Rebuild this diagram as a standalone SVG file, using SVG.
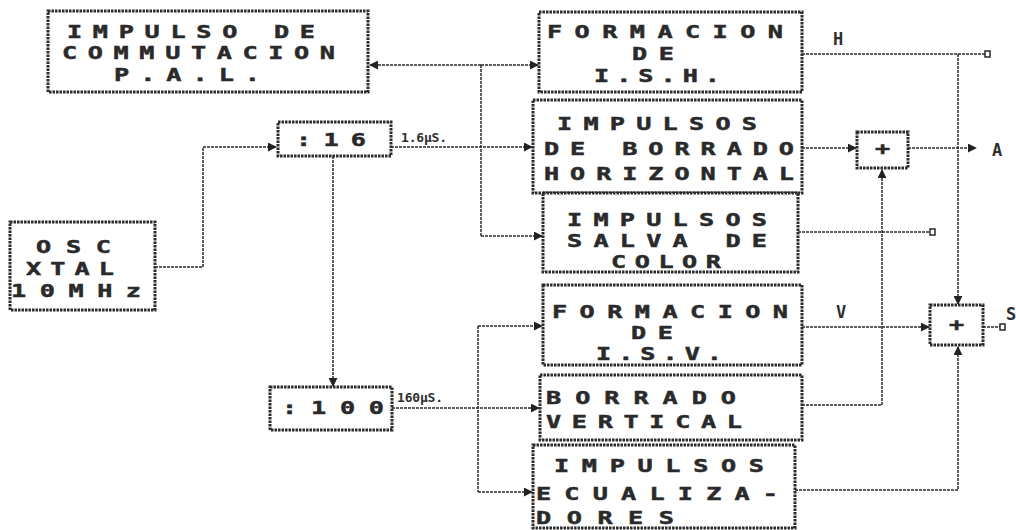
<svg xmlns="http://www.w3.org/2000/svg" width="1016" height="530" viewBox="0 0 1016 530">
<defs>
<marker id="arr" viewBox="0 0 10 10" refX="9" refY="5" markerWidth="9" markerHeight="9" markerUnits="userSpaceOnUse" orient="auto">
<path d="M0,0 L10,5 L0,10 z" fill="#222"/>
</marker>
</defs>
<style>
.box{fill:#fff;stroke:#2a2a2a;stroke-width:3;stroke-dasharray:2.5 1}
.t{font-family:"DejaVu Sans Mono","Liberation Mono",monospace;font-weight:bold;font-size:18px;fill:#2a2a2a;stroke:#2a2a2a;stroke-width:0.5}
.s{font-family:"DejaVu Sans Mono","Liberation Mono",monospace;font-weight:bold;font-size:13px;fill:#2e2e2e}
.l{font-family:"DejaVu Sans Mono","Liberation Mono",monospace;font-weight:bold;font-size:17px;fill:#2e2e2e}
.c{fill:none;stroke:#2a2a2a;stroke-width:1.5;stroke-dasharray:3 1}
.a{marker-end:url(#arr)}
.term{fill:#fff;stroke:#2a2a2a;stroke-width:1.5}
</style>
<rect width="1016" height="530" fill="#fff"/>

<g id="connectors">
<path class="c a" d="M155,267 H203 V147 H276"/>
<path class="c a" d="M333,156 V386"/>
<path class="c a" d="M391,147 H532"/>
<path class="c" d="M481,65 V236"/>
<path class="c a" d="M481,65 H370"/>
<path class="c a" d="M481,65 H538"/>
<path class="c a" d="M481,236 H542"/>
<path class="c a" d="M392,408 H539"/>
<path class="c" d="M478,326 V492"/>
<path class="c a" d="M478,326 H542"/>
<path class="c a" d="M478,492 H532"/>
<path class="c" d="M802,54 H985"/>
<path class="c a" d="M958,54 V304"/>
<path class="c a" d="M802,148 H856"/>
<path class="c a" d="M908,148 H976"/>
<path class="c a" d="M802,405 H882 V170"/>
<path class="c" d="M798,232 H930"/>
<path class="c a" d="M802,327 H929"/>
<path class="c" d="M983,327 H1000"/>
<path class="c a" d="M795,490 H958 V347"/>
<rect class="term" x="985" y="51" width="5" height="6"/>
<rect class="term" x="930" y="229" width="5" height="6"/>
<rect class="term" x="1000" y="324" width="5" height="6"/>
</g>

<g id="n-pal">
<rect class="box" x="48" y="11" width="320" height="81"/>
<text class="t" transform="scale(1.4 1)" x="47.86" y="38" textLength="177.14" lengthAdjust="spacing">IMPULSO DE</text>
<text class="t" transform="scale(1.4 1)" x="44.29" y="59" textLength="195" lengthAdjust="spacing">COMMUTACION</text>
<text class="t" transform="scale(1.4 1)" x="81.43" y="81" textLength="104.29" lengthAdjust="spacing">P.A.L.</text>
</g>

<g id="n-div16">
<rect class="box" x="278" y="122" width="113" height="34"/>
<text class="t" transform="scale(1.4 1)" x="211.43" y="146" textLength="50" lengthAdjust="spacing">:16</text>
</g>
<text class="s" x="401" y="142" textLength="46" lengthAdjust="spacing">1.6µS.</text>

<g id="n-osc">
<rect class="box" x="10" y="222" width="145" height="88"/>
<text class="t" transform="scale(1.4 1)" x="25.71" y="253" textLength="53.57" lengthAdjust="spacing">OSC</text>
<text class="t" transform="scale(1.4 1)" x="18.57" y="275" textLength="62.86" lengthAdjust="spacing">XTAL</text>
<text class="t" transform="scale(1.4 1)" x="7.86" y="297" textLength="92.86" lengthAdjust="spacing">10MHz</text>
</g>

<g id="n-div100">
<rect class="box" x="270" y="387" width="122" height="43"/>
<text class="t" transform="scale(1.4 1)" x="201.43" y="414" textLength="72.86" lengthAdjust="spacing">:100</text>
</g>
<text class="s" x="397" y="402" textLength="46" lengthAdjust="spacing">160µS.</text>

<g id="n-ish">
<rect class="box" x="539" y="12" width="263" height="80"/>
<text class="t" transform="scale(1.4 1)" x="390.71" y="38" textLength="168.57" lengthAdjust="spacing">FORMACION</text>
<text class="t" transform="scale(1.4 1)" x="451.43" y="60" textLength="30" lengthAdjust="spacing">DE</text>
<text class="t" transform="scale(1.4 1)" x="424.29" y="82" textLength="90" lengthAdjust="spacing">I.S.H.</text>
</g>
<text class="l" x="833" y="45">H</text>

<g id="n-bh">
<rect class="box" x="533" y="100" width="269" height="93"/>
<text class="t" transform="scale(1.4 1)" x="397.86" y="130" textLength="142.86" lengthAdjust="spacing">IMPULSOS</text>
<text class="t" transform="scale(1.4 1)" x="388.57" y="155" textLength="178.57" lengthAdjust="spacing">DE BORRADO</text>
<text class="t" transform="scale(1.4 1)" x="388.57" y="180" textLength="178.57" lengthAdjust="spacing">HORIZONTAL</text>
</g>

<g id="n-sumA">
<rect class="box" x="857" y="132" width="51" height="36"/>
<text class="t" transform="scale(1.4 1)" x="625" y="155">+</text>
</g>
<text class="l" x="992" y="156">A</text>

<g id="n-salva">
<rect class="box" x="543" y="193" width="255" height="79"/>
<text class="t" transform="scale(1.4 1)" x="405" y="226" textLength="142.86" lengthAdjust="spacing">IMPULSOS</text>
<text class="t" transform="scale(1.4 1)" x="405" y="247" textLength="142.86" lengthAdjust="spacing">SALVA DE</text>
<text class="t" transform="scale(1.4 1)" x="436.43" y="268" textLength="78.57" lengthAdjust="spacing">COLOR</text>
</g>

<g id="n-isv">
<rect class="box" x="543" y="285" width="259" height="80"/>
<text class="t" transform="scale(1.4 1)" x="394.29" y="318" textLength="168.57" lengthAdjust="spacing">FORMACION</text>
<text class="t" transform="scale(1.4 1)" x="450.71" y="339" textLength="30" lengthAdjust="spacing">DE</text>
<text class="t" transform="scale(1.4 1)" x="425.71" y="360" textLength="90" lengthAdjust="spacing">I.S.V.</text>
</g>
<text class="l" x="836" y="318">V</text>

<g id="n-sumS">
<rect class="box" x="930" y="305" width="53" height="40"/>
<text class="t" transform="scale(1.4 1)" x="677.86" y="331">+</text>
</g>
<text class="l" x="1006" y="320">S</text>

<g id="n-bv">
<rect class="box" x="540" y="375" width="262" height="65"/>
<text class="t" transform="scale(1.4 1)" x="390" y="404" textLength="135.71" lengthAdjust="spacing">BORRADO</text>
<text class="t" transform="scale(1.4 1)" x="390" y="428" textLength="140" lengthAdjust="spacing">VERTICAL</text>
</g>

<g id="n-ecu">
<rect class="box" x="533" y="445" width="262" height="83"/>
<text class="t" transform="scale(1.4 1)" x="395.71" y="472" textLength="150" lengthAdjust="spacing">IMPULSOS</text>
<text class="t" transform="scale(1.4 1)" x="382.86" y="500" textLength="172.86" lengthAdjust="spacing">ECUALIZA-</text>
<text class="t" transform="scale(1.4 1)" x="382.86" y="524" textLength="98.57" lengthAdjust="spacing">DORES</text>
</g>
</svg>
